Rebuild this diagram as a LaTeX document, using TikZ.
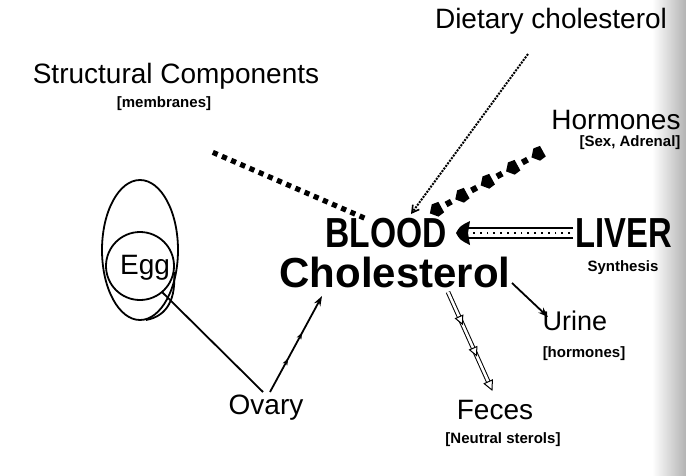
\documentclass[tikz,border=0pt]{standalone}
\usepackage{fontspec}
\setmainfont{Liberation Sans}
\usetikzlibrary{arrows.meta,decorations.markings,calc}
\begin{document}
\begin{tikzpicture}[x=1pt,y=-1pt,
  lbl/.style={font=\fontsize{28}{28}\selectfont, inner sep=0pt},
  big/.style={font=\fontsize{42}{42}\selectfont\bfseries, inner sep=0pt},
  small/.style={font=\fontsize{15}{15}\selectfont\bfseries, inner sep=0pt},
  thin/.style={line width=1.8pt},
  sqdots/.style={decorate, decoration={markings,
     mark=between positions 0 and 1 step 10pt with {\fill (-2.6,-2.6) rectangle (2.6,2.6);}}},
  pentmarks/.style={decorate, decoration={markings,
     mark=between positions 0 and 1 step 29pt with {\fill (-7,0) -- (-1,-7) -- (6,-6) -- (6,6) -- (-1,7) -- cycle;},
     mark=between positions 14.5pt and 1 step 29pt with {\fill (-3,-3) rectangle (3,3);}}},
  midarrows/.style={decorate, decoration={markings,
     mark=at position 0.35 with {\arrow{Stealth[length=7pt,width=5pt]}},
     mark=at position 0.62 with {\arrow{Stealth[length=7pt,width=5pt]}}}},
  openarrows/.style={decorate, decoration={markings,
     mark=at position 0.3 with {\draw[line width=1pt,fill=white] (3,0) -- (-5,-4) -- (-5,4) -- cycle;},
     mark=at position 0.62 with {\draw[line width=1pt,fill=white] (3,0) -- (-5,-4) -- (-5,4) -- cycle;},
     mark=at position 1 with {\draw[line width=1pt,fill=white] (0,0) -- (-9,-4.5) -- (-9,4.5) -- cycle;}}}
]
\useasboundingbox (0,0) rectangle (686,475);
\fill[white] (0,0) rectangle (686,475);
\shade[left color=white, right color=black!30] (652,0) rectangle (686,475);

% labels
\node[lbl] (struct) at (176,76) {Structural Components};
\node[small] (memb) at (164,104) {[membranes]};
\node[lbl] (diet) at (551,21) {Dietary cholesterol};
\node[lbl] (horm) at (616,120) {Hormones};
\node[small] (sex) at (630,143) {[Sex, Adrenal]};
\node[big, xscale=0.8] (blood) at (386,233) {BLOOD};
\node[big] (chol) at (395,272) {Cholesterol};
\node[big, xscale=0.78] (liver) at (624,233) {LIVER};
\node[small] (synth) at (623,268) {Synthesis};
\node[lbl, font=\fontsize{27}{27}\selectfont] (urine) at (575,321) {Urine};
\node[small] (hormb) at (584,354) {[hormones]};
\node[lbl] (feces) at (495,410) {Feces};
\node[small] (neut) at (503,440) {[Neutral sterols]};
\node[lbl] (ovary) at (266,408) {Ovary};
\node[lbl] (egg) at (145,268) {Egg};

% egg drawing
\draw[thin] (140,250) ellipse [x radius=38, y radius=70];
\draw[thin] (140,266) circle [radius=34];
\draw[thin] (174,272) .. controls (176,298) and (168,316) .. (146,320);

% connection points
\coordinate (sA) at (362,217);
\coordinate (sB) at (212,152);
\coordinate (dA) at (528,54);
\coordinate (dB) at (411,214);
\coordinate (hA) at (436,210);
\coordinate (hB) at (545,150);
\coordinate (lA) at (573,233);
\coordinate (lB) at (456,233);
\coordinate (eA) at (162,292);
\coordinate (oT) at (263,392);
\coordinate (oA) at (270,392);
\coordinate (cB) at (322,296);
\coordinate (uA) at (512,283);
\coordinate (uB) at (548,317);
\coordinate (fA) at (448,292);
\coordinate (fB) at (492,390);

% BLOOD -> Structural components (square dots)
\path[sqdots] (sA) -- (sB);
% Dietary -> BLOOD
\draw[line width=2pt, dash pattern=on 2pt off 1.2pt, -{Straight Barb[length=7pt,width=8pt,line width=1.6pt]}] (dA) -- (dB);
% BLOOD -> Hormones
\path[pentmarks] (hA) -- (hB);
% LIVER -> BLOOD
\draw[line width=2.2pt] (lA) ++(0,-5) -- ($(lB)+(12,-5)$);
\draw[line width=2.2pt] (lA) ++(0,5) -- ($(lB)+(12,5)$);
\draw[line width=1.8pt, dash pattern=on 1.8pt off 5pt] ($(lA)+(-3,0)$) -- ($(lB)+(14,0)$);
\fill (lB) .. controls ($(lB)+(4,-7)$) .. ($(lB)+(14,-12)$) -- ($(lB)+(12,0)$) -- ($(lB)+(14,12)$) .. controls ($(lB)+(4,7)$) .. (lB) -- cycle;
% Egg -> Ovary
\draw[thin] (eA) -- (oT);
% Ovary -> Cholesterol
\draw[thin, -{Stealth[length=10pt,width=7pt]}] (oA) -- (cB);
\path[midarrows] (oA) -- (cB);
% Cholesterol -> Urine
\draw[thin, -{Stealth[length=10pt,width=7pt]}] (uA) -- (uB);
% Cholesterol -> Feces (hollow arrow)
\draw[line width=1pt, double, double distance=2.6pt, shorten >=8pt] (fA) -- (fB);
\path[openarrows] (fA) -- (fB);
\end{tikzpicture}
\end{document}
